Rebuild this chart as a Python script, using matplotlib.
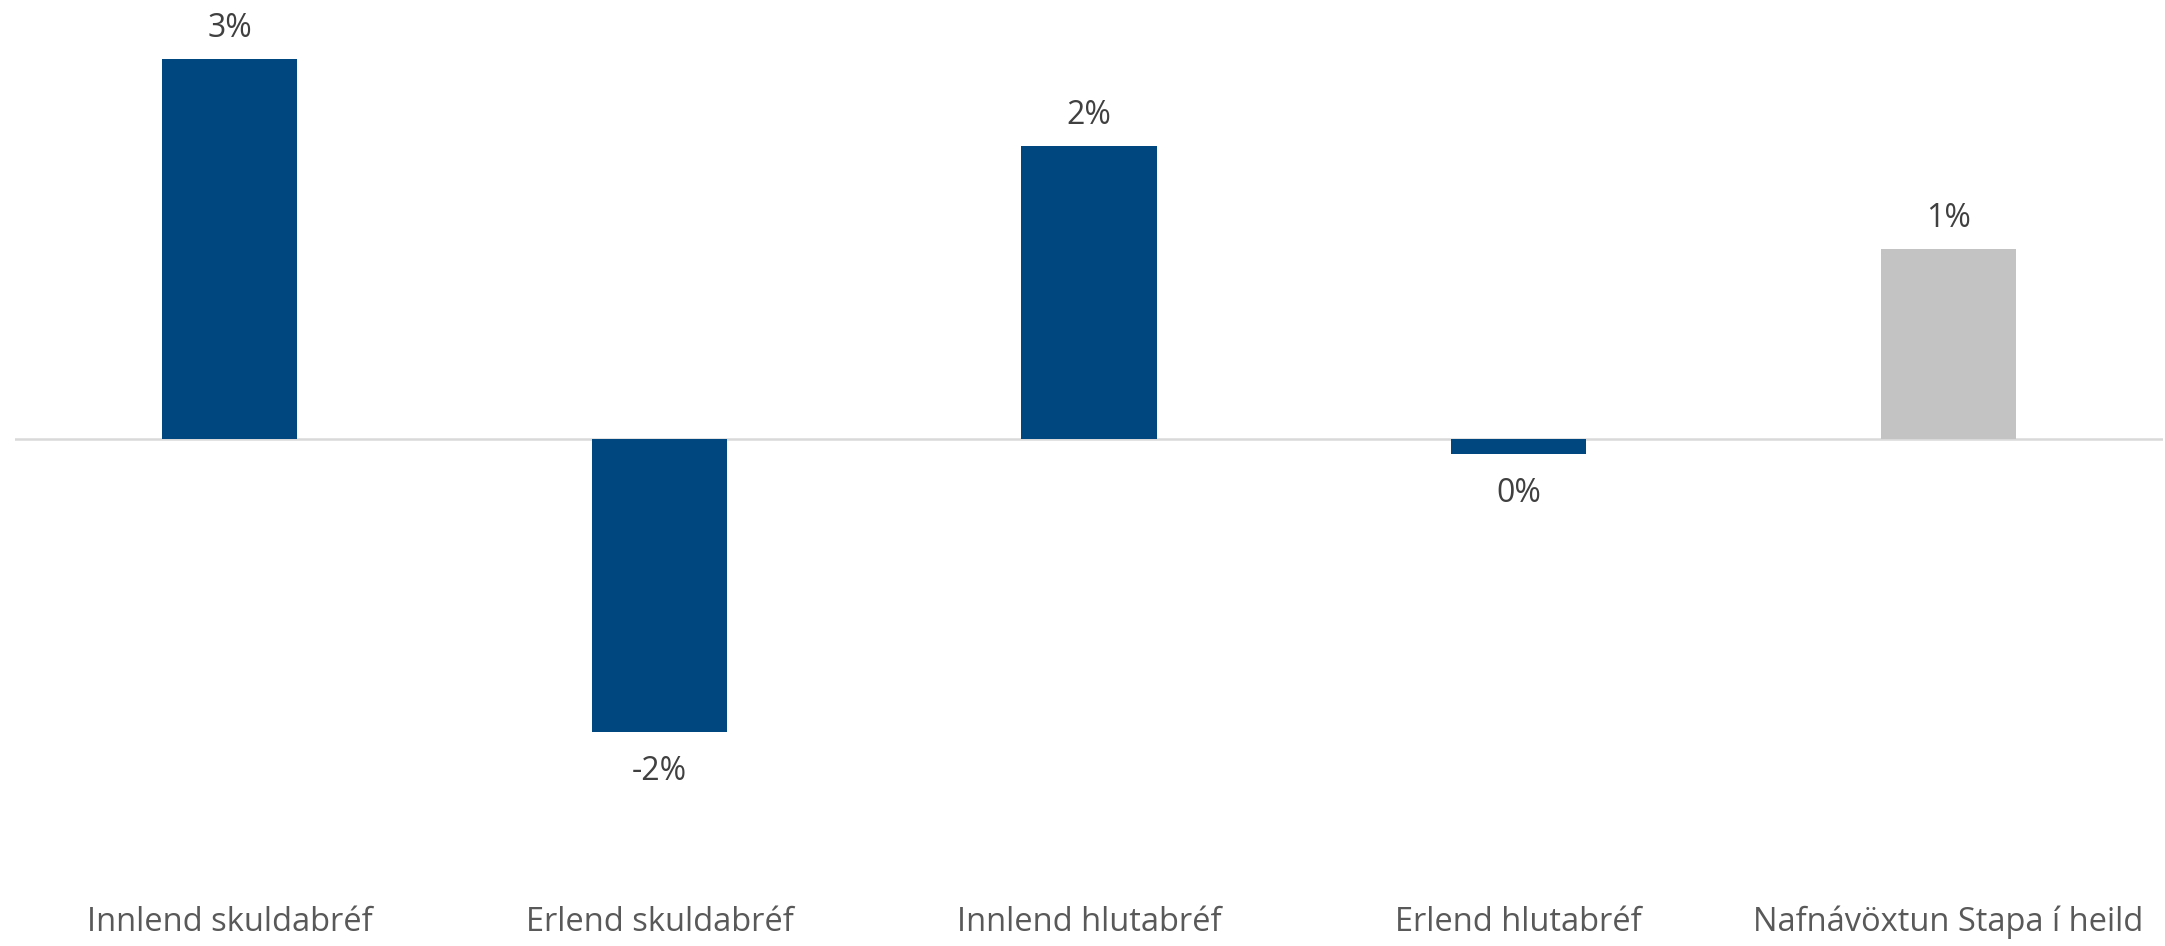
import matplotlib.pyplot as plt

# Data
categories = ['Innlend skuldabréf', 'Erlend skuldabréf', 'Innlend hlutabréf',
              'Erlend hlutabréf', 'Nafnávöxtun Stapa í heild']
returns = [0.026, -0.020, 0.020, -0.001, 0.013]
bar_colors = ['#00467f', '#00467f', '#00467f', '#00467f', '#c3c3c3']

plt.rcParams['font.family'] = ['Open Sans', 'DejaVu Sans']

fig = plt.figure(figsize=(21.65, 9.46), dpi=100)
ax = fig.add_axes([15 / 2165, 68 / 946, 2148 / 2165, 878 / 946])

x = range(len(categories))
bars = ax.bar(x, returns, width=0.315, color=bar_colors, zorder=2)

# baseline
ax.axhline(0, color='#d9d9d9', linewidth=1.8, zorder=1)

# value labels
for b, v in zip(bars, returns):
    label = f"{round(v * 100):d}%"
    if v >= 0:
        ax.annotate(label, (b.get_x() + b.get_width() / 2, v),
                    xytext=(0, 10), textcoords='offset points',
                    ha='center', va='bottom', fontsize=23, color='#404040')
    else:
        ax.annotate(label, (b.get_x() + b.get_width() / 2, v),
                    xytext=(0, -17), textcoords='offset points',
                    ha='center', va='top', fontsize=23, color='#404040')

ax.set_xlim(-0.5, len(categories) - 0.5)
ax.set_ylim(-0.03, 0.03)
ax.set_xticks(list(x))
ax.set_xticklabels(categories, fontsize=23.5, color='#595959')
ax.tick_params(axis='x', length=0, pad=20)
ax.set_yticks([])
for s in ax.spines.values():
    s.set_visible(False)

fig.savefig('out.png', dpi=100, facecolor='white')
